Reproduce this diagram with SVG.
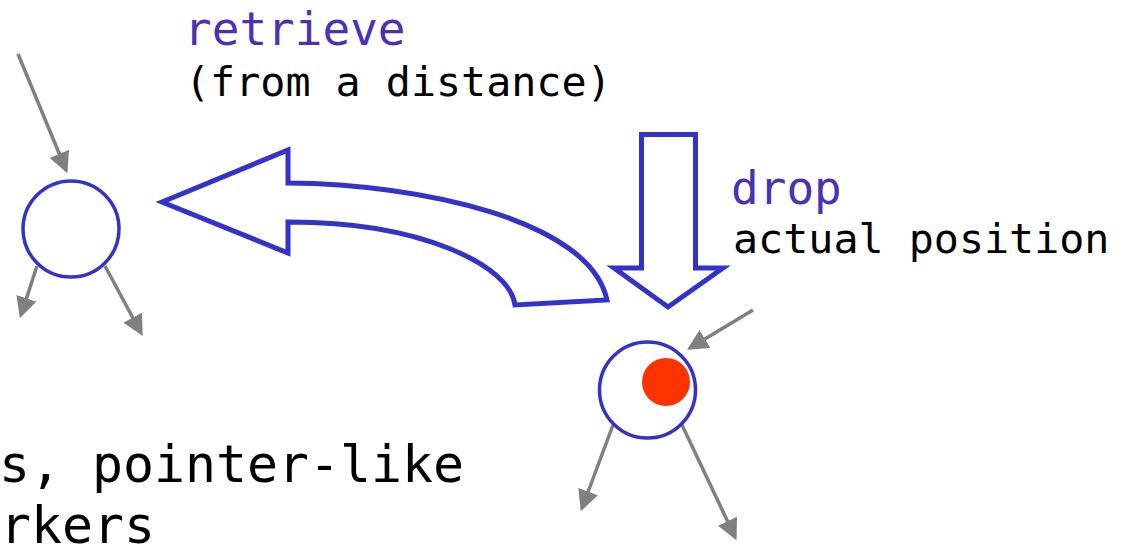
<svg xmlns="http://www.w3.org/2000/svg" width="1124" height="547" viewBox="0 0 1124 547">
<style>
.t{font-family:"DejaVu Sans Mono","Liberation Mono",monospace;font-size:41.7px;fill:#000}
.k{fill:#4B32B4;font-size:46px}
.b{font-size:51.5px}
.node{fill:#fff;stroke:#3333CC;stroke-width:3.5}
.blk{fill:#fff;stroke:#3333CC;stroke-width:5;stroke-linejoin:miter}
.e{stroke:#808080;stroke-width:3.5;fill:none;marker-end:url(#ah)}
</style>
<defs>
<marker id="ah" markerWidth="6" markerHeight="6" refX="5" refY="3" orient="auto" markerUnits="strokeWidth" viewBox="0 0 6 6">
<path d="M0,0 L6,3 L0,6 Z" fill="#808080"/>
</marker>
</defs>
<rect width="1124" height="547" fill="#fff"/>
<g id="connectors">
<line class="e" x1="18" y1="54" x2="66" y2="170"/>
<line class="e" x1="37" y1="266" x2="21" y2="315"/>
<line class="e" x1="105" y1="266" x2="141" y2="333"/>
<line class="e" x1="753" y1="310" x2="690" y2="348"/>
<line class="e" x1="613" y1="425" x2="582" y2="508"/>
<line class="e" x1="682" y1="425" x2="735" y2="537"/>
</g>
<g id="node-left"><circle class="node" cx="71" cy="229" r="48"/></g>
<g id="node-right">
<circle class="node" cx="647.5" cy="390" r="48"/>
<circle cx="666" cy="382" r="24" fill="#FF3300"/>
</g>
<g id="retrieve-arrow">
<path class="blk" d="M162,202 L288,150 L288,183 C420,184 590,220 607,300 L515,305 C510,265 420,222 290,222 L288,222 L288,253 Z"/>
</g>
<g id="drop-arrow">
<path class="blk" d="M641.5,134.5 L695.5,134.5 L695.5,268 L723,268 L668,307 L614,268 L641.5,268 Z"/>
</g>
<g id="labels">
<text class="t k" x="184" y="45">retrieve</text>
<text class="t" x="185" y="96">(from a distance)</text>
<text class="t k" x="731" y="204">drop</text>
<text class="t" x="733" y="253">actual position</text>
<text class="t b" x="-1" y="482">s, pointer-like</text>
<text class="t b" x="0" y="543">rkers</text>
</g>
</svg>
